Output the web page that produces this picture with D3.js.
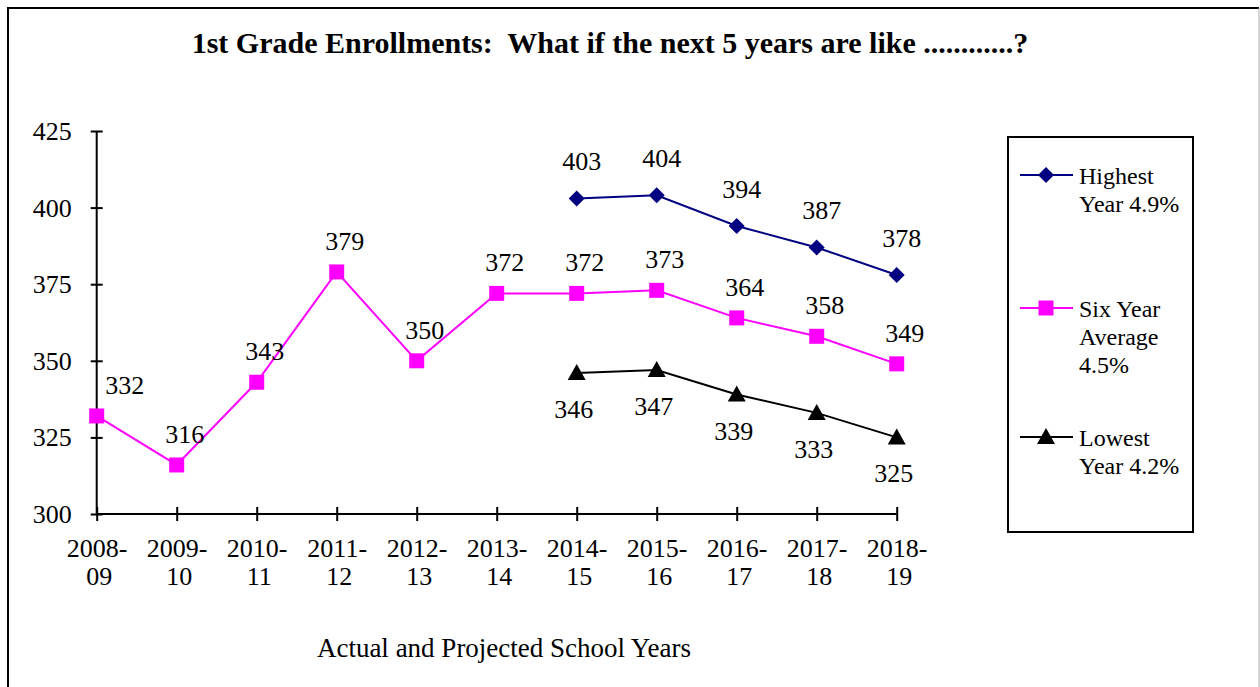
<!DOCTYPE html>
<html>
<head>
<meta charset="utf-8">
<script src="https://cdn.jsdelivr.net/npm/d3@7"></script>
<style>
  html, body { margin: 0; padding: 0; background: #fff; }
  svg { display: block; }
  text { font-family: "Liberation Serif", "Times New Roman", serif; fill: #000; }
</style>
</head>
<body>
<svg id="chart" width="1260" height="687"></svg>
<script>
// ---- data ----
const categories = ["2008-09","2009-10","2010-11","2011-12","2012-13","2013-14","2014-15","2015-16","2016-17","2017-18","2018-19"];
const highestValues = [null,null,null,null,null,null,403,404,394,387,378];
const averageValues = [332,316,343,379,350,372,372,373,364,358,349];
const lowestValues  = [null,null,null,null,null,null,346,347,339,333,325];
const yTicks = [300,325,350,375,400,425];
const seriesNames = ["Highest Year 4.9%","Six Year Average 4.5%","Lowest Year 4.2%"];
const legendLines = [["Highest","Year 4.9%"],["Six Year","Average","4.5%"],["Lowest","Year 4.2%"]];
const titleText = "1st Grade Enrollments:\u00A0 What if the next 5 years are like ............?";
const xTitle = "Actual and Projected School Years";

// ---- layout ----
const svg = d3.select("#chart");
const x = d3.scalePoint().domain(categories).range([96.7, 896.7]).padding(0);
const y = d3.scaleLinear().domain([300, 425]).range([514, 131]);
const axisX = x(categories[0]);

// outer border
svg.append("path").attr("d", "M8,700V8H1259").attr("fill", "none").attr("stroke", "#000").attr("stroke-width", 2);
svg.append("path").attr("d", "M1259,8V700").attr("fill", "none").attr("stroke", "#aaa").attr("stroke-width", 1);

// title
svg.append("text").attr("x", 610).attr("y", 53).attr("text-anchor", "middle")
  .style("font-size", "30px").style("font-weight", "bold").text(titleText);

// y axis
const yAxis = svg.append("g").attr("transform", `translate(${axisX},0)`)
  .call(d3.axisLeft(y).tickValues(yTicks).tickSize(6).tickPadding(0));
yAxis.select(".domain").attr("stroke", "#000").attr("stroke-width", 2).attr("d", `M0,${y(425)}V${y(300)}`);
yAxis.selectAll(".tick line").attr("x1", -6).attr("x2", 6).attr("stroke", "#000").attr("stroke-width", 2);
yAxis.selectAll(".tick text").attr("x", -25).attr("dy", "0.33em")
  .style("font-size", "26px").style("font-family", "Liberation Serif, serif").attr("fill", "#000");

// x axis
const xAxis = svg.append("g").attr("transform", `translate(0,${y(300)})`)
  .call(d3.axisBottom(x).tickSize(6).tickFormat(""));
xAxis.select(".domain").attr("stroke", "#000").attr("stroke-width", 2).attr("d", `M${x(categories[0])},0H${x(categories[categories.length-1])}`);
xAxis.selectAll(".tick line").attr("y1", -7).attr("y2", 7).attr("stroke", "#000").attr("stroke-width", 2);
xAxis.selectAll(".tick text").remove();
xAxis.selectAll(".tick").each(function(d) {
  const parts = d.split("-");
  const t = d3.select(this).append("text").attr("text-anchor", "middle")
    .style("font-size", "26px").style("font-family", "Liberation Serif, serif").attr("fill", "#000");
  t.append("tspan").attr("x", 0).attr("y", 43).text(parts[0] + "-");
  t.append("tspan").attr("x", 2).attr("y", 71).text(parts[1]);
});

// x title
svg.append("text").attr("x", 504).attr("y", 657).attr("text-anchor", "middle")
  .style("font-size", "27px").text(xTitle);

// series
const series = [
  { name: seriesNames[0], values: highestValues, color: "#000080", marker: "diamond", ldx: 5, ldy: -28 },
  { name: seriesNames[1], values: averageValues, color: "#FF00FF", marker: "square", ldx: 8, ldy: -22 },
  { name: seriesNames[2], values: lowestValues,  color: "#000000", marker: "triangle", ldx: -3, ldy: 45 }
];

function markerPath(type) {
  if (type === "diamond") return "M0,-8L8,0L0,8L-8,0Z";
  if (type === "square") return "M-7.5,-7.5H7.5V7.5H-7.5Z";
  return "M0,-9L9,7L-9,7Z";
}

const line = d3.line().defined(d => d.v != null).x(d => x(d.c)).y(d => y(d.v));

// draw order: average, lowest, highest
[series[1], series[2], series[0]].forEach(s => {
  const pts = categories.map((c, i) => ({ c, v: s.values[i] }));
  svg.append("path").datum(pts).attr("d", line).attr("fill", "none")
    .attr("stroke", s.color).attr("stroke-width", 2);
  const valid = pts.filter(p => p.v != null);
  svg.selectAll(null).data(valid).enter().append("path")
    .attr("d", markerPath(s.marker))
    .attr("transform", p => `translate(${x(p.c)},${y(p.v)})`)
    .attr("fill", s.color);
  svg.selectAll(null).data(valid).enter().append("text")
    // keep labels clear of the y axis
    .attr("x", p => Math.max(x(p.c) + s.ldx, axisX + 28))
    .attr("y", p => y(p.v) + s.ldy)
    .attr("text-anchor", "middle").style("font-size", "26px")
    .text(p => p.v);
});

// legend
const lg = svg.append("g");
lg.append("rect").attr("x", 1008).attr("y", 137).attr("width", 185).attr("height", 395)
  .attr("fill", "#fff").attr("stroke", "#000").attr("stroke-width", 2);
const legendY = [175, 308, 437];
series.forEach((s, i) => {
  const g = lg.append("g").attr("transform", `translate(0,${legendY[i]})`);
  g.append("line").attr("x1", 1020).attr("x2", 1073).attr("y1", 0).attr("y2", 0)
    .attr("stroke", s.color).attr("stroke-width", 2);
  g.append("path").attr("d", markerPath(s.marker)).attr("transform", "translate(1046,0)").attr("fill", s.color);
  const t = g.append("text").style("font-size", "24px");
  legendLines[i].forEach((ln, j) => {
    t.append("tspan").attr("x", 1079).attr("y", 9 + j * 28).text(ln);
  });
});
</script>
</body>
</html>
